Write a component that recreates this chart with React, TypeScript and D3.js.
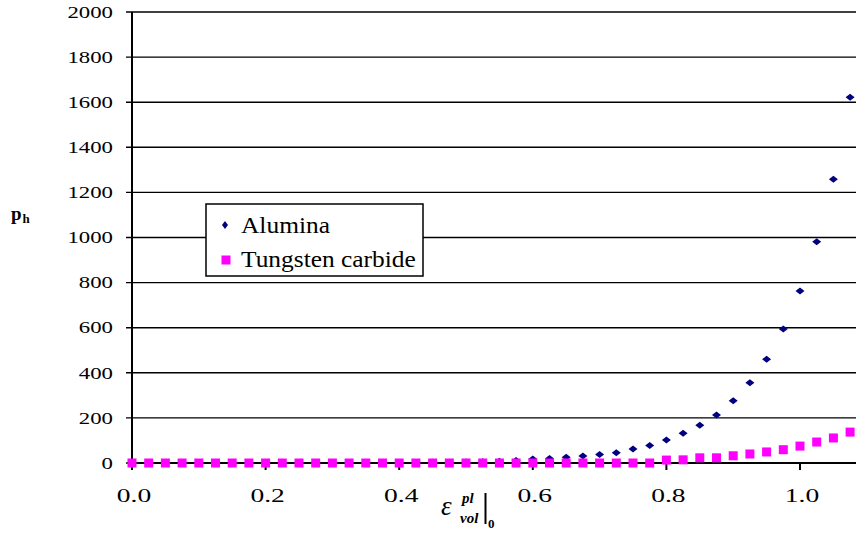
import React from 'react';
import * as d3 from 'd3';

// strain values, step 0.025
const strain = d3.range(44).map((i) => i * 0.025);

const alumina = [
  0, 0, 0, 0, 0, 0, 0, 0, 0, 0, 0, 0, 0,
  1, 1, 1, 2, 2, 3, 3,
  4, 6, 8, 11, 18, 20, 25, 31, 38, 46, 62, 78,
  102, 132, 167, 213, 276, 356, 460, 594, 763, 981, 1258, 1622,
];

const tungstenCarbide = [
  0, 0, 0, 0, 0, 0, 0, 0, 0, 0, 0, 0, 0, 0, 0, 0,
  0, 0, 0, 0, 0, 0, 0, 0, 0, 0, 0, 0, 0, 0, 0, 0,
  13, 14, 23, 23, 32, 40, 49, 59, 75, 93, 111, 137,
];

const yTicks = [0, 200, 400, 600, 800, 1000, 1200, 1400, 1600, 1800, 2000];
const xTicks = [0, 0.2, 0.4, 0.6, 0.8, 1.0];

const width = 856;
const height = 540;
const serif = '"Liberation Serif", "Times New Roman", serif';

export default function App() {
  const x = d3.scaleLinear().domain([0, 1]).range([132, 800]);
  const y = d3.scaleLinear().domain([0, 2000]).range([463, 12]);

  const diamond = (cx: number, cy: number, w: number, h: number) =>
    `M${cx},${cy - h / 2}L${cx + w / 2},${cy}L${cx},${cy + h / 2}L${cx - w / 2},${cy}Z`;

  return (
    <svg
      width={width}
      height={height}
      style={{ position: 'absolute', left: 0, top: 0, background: '#fff' }}
      fontFamily={serif}
    >
      <rect x={0} y={0} width={width} height={height} fill="#fff" />

      {/* gridlines */}
      {yTicks.map((t) => (
        <line key={'g' + t} x1={126} x2={width} y1={y(t)} y2={y(t)} stroke="#000" strokeWidth={1.4} />
      ))}

      {/* y axis */}
      <line x1={132} x2={132} y1={y(2000)} y2={y(0)} stroke="#000" strokeWidth={2} />
      {yTicks.map((t) => (
        <g key={'yl' + t} transform={`translate(113,${y(t)}) scale(1.38,1)`}>
          <text textAnchor="end" dy="0.35em" fontSize={16.5} fill="#000">
            {t}
          </text>
        </g>
      ))}

      {/* x axis */}
      <line x1={132} x2={width} y1={y(0)} y2={y(0)} stroke="#000" strokeWidth={2} />
      {xTicks.map((t) => (
        <g key={'xt' + t}>
          <line x1={x(t)} x2={x(t)} y1={y(0)} y2={y(0) + 7} stroke="#000" strokeWidth={2} />
          <g transform={`translate(${x(t) + 2},502) scale(1.45,1)`}>
            <text textAnchor="middle" fontSize={19} fill="#000">
              {d3.format('.1f')(t)}
            </text>
          </g>
        </g>
      ))}

      {/* series */}
      {alumina.map((v, i) => (
        <path key={'a' + i} d={diamond(x(strain[i]), y(v), 9, 7)} fill="#000080" />
      ))}
      {tungstenCarbide.map((v, i) => (
        <rect key={'w' + i} x={x(strain[i]) - 4.5} y={y(v) - 4.5} width={9} height={9} fill="#ff00ff" />
      ))}

      {/* legend */}
      <rect x={206} y={204} width={217} height={72} fill="#fff" stroke="#000" strokeWidth={1.5} />
      <path d={diamond(225, 225, 6, 8)} fill="#000080" />
      <g transform="translate(241,233) scale(1.13,1)">
        <text fontSize={22.5} fill="#000">Alumina</text>
      </g>
      <rect x={221.5} y={255.5} width={9} height={9} fill="#ff00ff" />
      <g transform="translate(241,267) scale(1.13,1)">
        <text fontSize={22.5} fill="#000">Tungsten carbide</text>
      </g>

      {/* y title */}
      <text x={11} y={220} fontSize={19} fontWeight="bold" fill="#000">p</text>
      <text x={22.5} y={223} fontSize={13} fontWeight="bold" fill="#000">h</text>

      {/* x title */}
      <text x={441} y={515} fontSize={27} fontStyle="italic" fill="#000">ε</text>
      <text x={462} y={503} fontSize={15} fontStyle="italic" fontWeight="bold" fill="#000">pl</text>
      <text x={460} y={523} fontSize={15} fontStyle="italic" fontWeight="bold" fill="#000">vol</text>
      <line x1={485.5} x2={485.5} y1={493} y2={524} stroke="#000" strokeWidth={2} />
      <text x={488} y={528} fontSize={13} fontWeight="bold" fill="#000">0</text>
    </svg>
  );
}
